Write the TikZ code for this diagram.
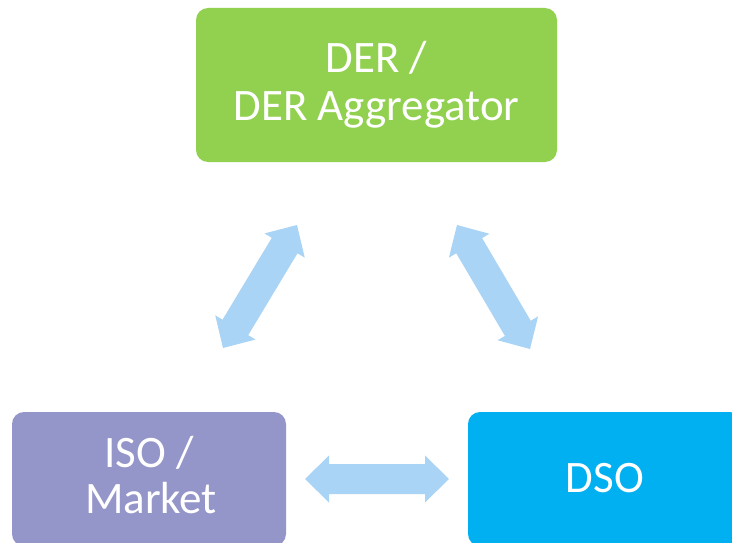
\documentclass[tikz,border=0pt]{standalone}
\usepackage{fontspec}
\setmainfont{Carlito}
\usetikzlibrary{calc}
\definecolor{dergreen}{RGB}{146,208,80}
\definecolor{isopurple}{RGB}{148,149,200}
\definecolor{dsoblue}{RGB}{0,176,240}
\definecolor{arrowblue}{RGB}{170,212,245}
\tikzset{
  box/.style={rectangle, rounded corners=12pt, inner sep=0pt, outer sep=0pt, draw=none},
  lbl/.style={text=white, font=\fontsize{45}{48}\selectfont, anchor=base, inner sep=0pt},
  blockarrow/.style={fill=arrowblue, draw=none}
}
% double block arrow between two named tip coordinates
\newcommand\dblarr[2]{%
  \path ($(#1)!24pt!(#2)$) coordinate (#1h) ($(#2)!24pt!(#1)$) coordinate (#2h);
  \fill[blockarrow] (#1)
    -- ($(#1h)!23.5pt!90:(#2)$) -- ($(#1h)!15pt!90:(#2)$)
    -- ($(#2h)!15pt!-90:(#1)$) -- ($(#2h)!23.5pt!-90:(#1)$)
    -- (#2)
    -- ($(#2h)!23.5pt!90:(#1)$) -- ($(#2h)!15pt!90:(#1)$)
    -- ($(#1h)!15pt!-90:(#2)$) -- ($(#1h)!23.5pt!-90:(#2)$)
    -- cycle;}
\begin{document}
\begin{tikzpicture}[x=1pt,y=-1pt]
\useasboundingbox (0,0) rectangle (732,543);
\clip (0,0) rectangle (732,543);
\fill[white] (0,0) rectangle (732,543);
% boxes
\node[box, fill=dergreen, minimum width=361pt, minimum height=154pt] (der) at (376.5,85) {};
\node[box, fill=isopurple, minimum width=274pt, minimum height=134pt] (iso) at (149,479) {};
\node[box, fill=dsoblue, minimum width=274pt, minimum height=134pt] (dso) at (605,479) {};
% labels
\node[lbl] (der1) at (376.5,73) {DER /};
\node[lbl] (der2) at (376.5,121) {DER Aggregator};
\node[lbl] (iso1) at (149,467) {ISO /};
\node[lbl] (iso2) at (151,513) {Market};
\node[lbl] (dso1) at (605,492) {DSO};
% arrow tips
\coordinate (la) at (223,348);
\coordinate (lb) at (297,225);
\coordinate (ra) at (457,225);
\coordinate (rb) at (530,349);
\coordinate (ha) at (305,479);
\coordinate (hb) at (449,479);
\dblarr{la}{lb}
\dblarr{ra}{rb}
\dblarr{ha}{hb}
\end{tikzpicture}
\end{document}
